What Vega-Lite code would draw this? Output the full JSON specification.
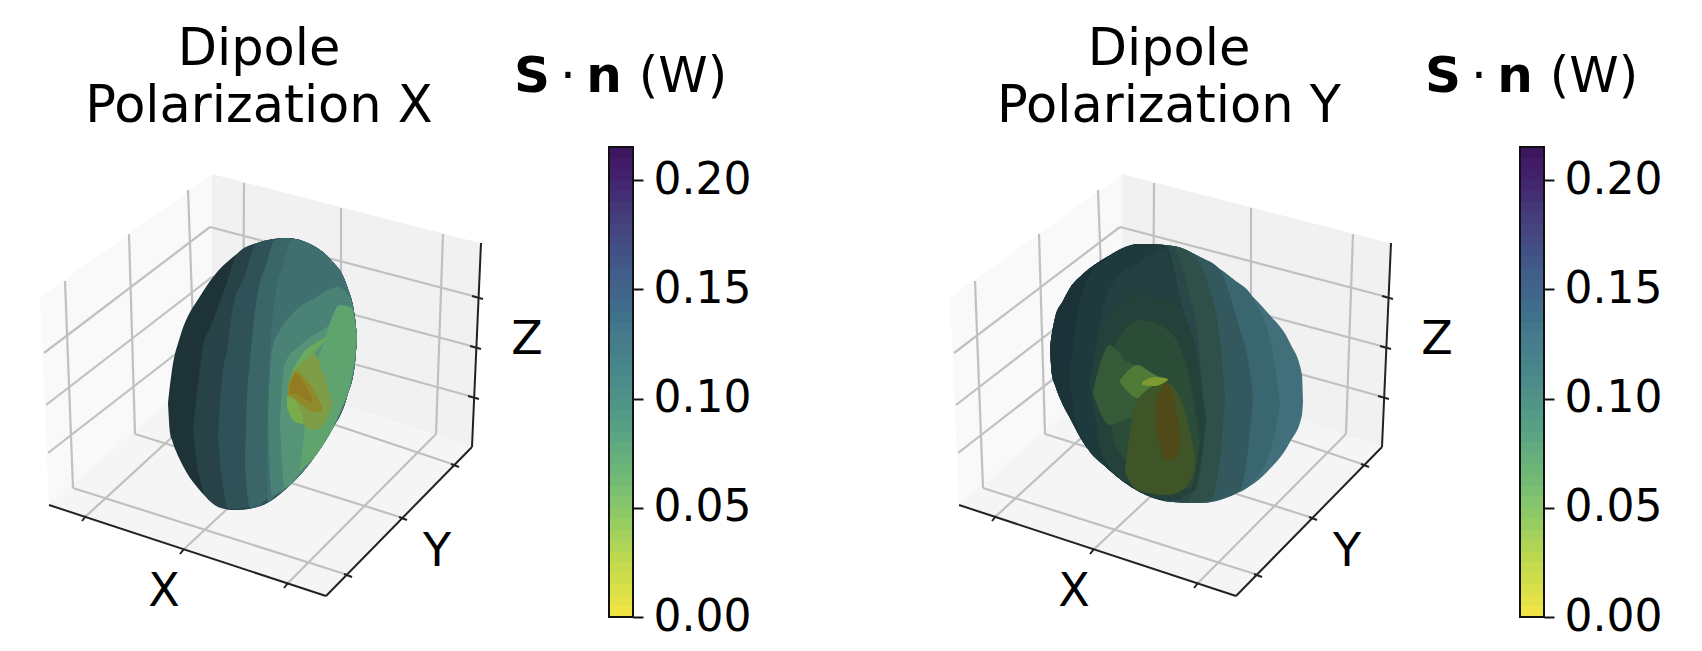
{
  "$schema": "https://vega.github.io/schema/vega-lite/v6.json",
  "padding": 0,
  "background": "white",
  "spacing": 0,
  "bounds": "flush",
  "config": {"view": {"stroke": null}, "text": {"font": "DejaVu Sans"}},
  "datasets": {
    "panes": [
      {"pane": "left", "x": 40, "y": 298, "y2": 298},
      {"pane": "left", "x": 49, "y": 291, "y2": 505},
      {"pane": "left", "x": 213, "y": 174, "y2": 363},
      {"pane": "right", "x": 212, "y": 174, "y2": 363},
      {"pane": "right", "x": 472, "y": 241, "y2": 447},
      {"pane": "right", "x": 481, "y": 243, "y2": 243},
      {"pane": "floor", "x": 49, "y": 505, "y2": 505},
      {"pane": "floor", "x": 213, "y": 363, "y2": 559},
      {"pane": "floor", "x": 326, "y": 400, "y2": 596},
      {"pane": "floor", "x": 472, "y": 447, "y2": 447}
    ],
    "grid": [
      {"x": 65, "y": 281, "x2": 73, "y2": 488},
      {"x": 129, "y": 234, "x2": 135, "y2": 434},
      {"x": 188, "y": 190, "x2": 195, "y2": 378},
      {"x": 244, "y": 183, "x2": 243, "y2": 372},
      {"x": 341, "y": 208, "x2": 341, "y2": 403},
      {"x": 443, "y": 234, "x2": 436, "y2": 434},
      {"x": 44, "y": 353, "x2": 210, "y2": 227},
      {"x": 46, "y": 405, "x2": 212, "y2": 277},
      {"x": 48, "y": 453, "x2": 213, "y2": 325},
      {"x": 210, "y": 227, "x2": 477, "y2": 297},
      {"x": 212, "y": 277, "x2": 475, "y2": 347},
      {"x": 213, "y": 325, "x2": 473, "y2": 397},
      {"x": 84, "y": 518, "x2": 243, "y2": 372},
      {"x": 182, "y": 551, "x2": 341, "y2": 403},
      {"x": 286, "y": 585, "x2": 436, "y2": 434},
      {"x": 348, "y": 575, "x2": 73, "y2": 488},
      {"x": 403, "y": 518, "x2": 135, "y2": 434},
      {"x": 455, "y": 465, "x2": 195, "y2": 378}
    ],
    "axes": [
      {"x": 49, "y": 505, "x2": 326, "y2": 596},
      {"x": 326, "y": 596, "x2": 472, "y2": 447},
      {"x": 472, "y": 447, "x2": 481, "y2": 243},
      {"x": 86, "y": 516, "x2": 82, "y2": 521},
      {"x": 184, "y": 549, "x2": 180, "y2": 554},
      {"x": 288, "y": 583, "x2": 284, "y2": 588},
      {"x": 344, "y": 574, "x2": 352, "y2": 577},
      {"x": 399, "y": 517, "x2": 407, "y2": 520},
      {"x": 451, "y": 464, "x2": 459, "y2": 467},
      {"x": 472, "y": 296, "x2": 483, "y2": 299},
      {"x": 470, "y": 346, "x2": 481, "y2": 349},
      {"x": 468, "y": 396, "x2": 479, "y2": 399}
    ],
    "surfaceX": [
      {"band": "A0", "x": 168, "y": 403, "y2": 403}, {"band": "A0", "x": 170, "y": 385, "y2": 433}, {"band": "A0", "x": 172, "y": 370, "y2": 440}, {"band": "A0", "x": 180, "y": 337, "y2": 460}, {"band": "A0", "x": 193, "y": 307, "y2": 482}, {"band": "A0", "x": 197, "y": 301, "y2": 487}, {"band": "A0", "x": 213, "y": 277, "y2": 503}, {"band": "A0", "x": 233, "y": 257, "y2": 510}, {"band": "A0", "x": 257, "y": 243, "y2": 507}, {"band": "A0", "x": 287, "y": 238, "y2": 488}, {"band": "A0", "x": 310, "y": 244, "y2": 463}, {"band": "A0", "x": 330, "y": 259, "y2": 433}, {"band": "A0", "x": 347, "y": 286, "y2": 397}, {"band": "A0", "x": 355, "y": 318, "y2": 363}, {"band": "A0", "x": 357, "y": 337, "y2": 337},
      {"band": "A1", "x": 193, "y": 430, "y2": 432}, {"band": "A1", "x": 198, "y": 385, "y2": 470}, {"band": "A1", "x": 203, "y": 347, "y2": 490}, {"band": "A1", "x": 212, "y": 323, "y2": 503}, {"band": "A1", "x": 225, "y": 288, "y2": 509}, {"band": "A1", "x": 238, "y": 253, "y2": 510}, {"band": "A1", "x": 257, "y": 243, "y2": 507}, {"band": "A1", "x": 287, "y": 238, "y2": 488}, {"band": "A1", "x": 310, "y": 244, "y2": 463}, {"band": "A1", "x": 330, "y": 259, "y2": 433}, {"band": "A1", "x": 347, "y": 286, "y2": 397}, {"band": "A1", "x": 355, "y": 318, "y2": 363}, {"band": "A1", "x": 357, "y": 337, "y2": 337},
      {"band": "A2", "x": 218, "y": 437, "y2": 439}, {"band": "A2", "x": 222, "y": 380, "y2": 478}, {"band": "A2", "x": 227, "y": 350, "y2": 507}, {"band": "A2", "x": 232, "y": 313, "y2": 509}, {"band": "A2", "x": 245, "y": 275, "y2": 508}, {"band": "A2", "x": 257, "y": 243, "y2": 507}, {"band": "A2", "x": 287, "y": 238, "y2": 488}, {"band": "A2", "x": 310, "y": 244, "y2": 463}, {"band": "A2", "x": 330, "y": 259, "y2": 433}, {"band": "A2", "x": 347, "y": 286, "y2": 397}, {"band": "A2", "x": 355, "y": 318, "y2": 363}, {"band": "A2", "x": 357, "y": 337, "y2": 337},
      {"band": "A3", "x": 245, "y": 463, "y2": 465}, {"band": "A3", "x": 247, "y": 397, "y2": 490}, {"band": "A3", "x": 250, "y": 360, "y2": 508}, {"band": "A3", "x": 257, "y": 297, "y2": 507}, {"band": "A3", "x": 266, "y": 265, "y2": 500}, {"band": "A3", "x": 275, "y": 240, "y2": 496}, {"band": "A3", "x": 287, "y": 238, "y2": 488}, {"band": "A3", "x": 310, "y": 244, "y2": 463}, {"band": "A3", "x": 330, "y": 259, "y2": 433}, {"band": "A3", "x": 347, "y": 286, "y2": 397}, {"band": "A3", "x": 355, "y": 318, "y2": 363}, {"band": "A3", "x": 357, "y": 337, "y2": 337},
      {"band": "A4", "x": 267, "y": 463, "y2": 465}, {"band": "A4", "x": 268, "y": 397, "y2": 502}, {"band": "A4", "x": 275, "y": 297, "y2": 496}, {"band": "A4", "x": 283, "y": 265, "y2": 491}, {"band": "A4", "x": 293, "y": 239, "y2": 482}, {"band": "A4", "x": 310, "y": 244, "y2": 463}, {"band": "A4", "x": 330, "y": 259, "y2": 433}, {"band": "A4", "x": 347, "y": 286, "y2": 397}, {"band": "A4", "x": 355, "y": 318, "y2": 363}, {"band": "A4", "x": 357, "y": 337, "y2": 337},
      {"band": "A5", "x": 268, "y": 417, "y2": 419}, {"band": "A5", "x": 272, "y": 350, "y2": 495}, {"band": "A5", "x": 280, "y": 330, "y2": 492}, {"band": "A5", "x": 293, "y": 313, "y2": 482}, {"band": "A5", "x": 317, "y": 297, "y2": 453}, {"band": "A5", "x": 337, "y": 287, "y2": 420}, {"band": "A5", "x": 350, "y": 297, "y2": 385}, {"band": "A5", "x": 355, "y": 320, "y2": 363}, {"band": "A5", "x": 357, "y": 337, "y2": 337},
      {"band": "A6", "x": 280, "y": 423, "y2": 425}, {"band": "A6", "x": 285, "y": 363, "y2": 488}, {"band": "A6", "x": 303, "y": 343, "y2": 469}, {"band": "A6", "x": 327, "y": 327, "y2": 438}, {"band": "A6", "x": 343, "y": 315, "y2": 404}, {"band": "A6", "x": 355, "y": 325, "y2": 363}, {"band": "A6", "x": 357, "y": 337, "y2": 337},
      {"band": "A7", "x": 300, "y": 468, "y2": 470}, {"band": "A7", "x": 312, "y": 380, "y2": 460}, {"band": "A7", "x": 323, "y": 345, "y2": 445}, {"band": "A7", "x": 340, "y": 305, "y2": 412}, {"band": "A7", "x": 352, "y": 308, "y2": 375}, {"band": "A7", "x": 357, "y": 337, "y2": 337},
      {"band": "A8", "x": 288, "y": 387, "y2": 400}, {"band": "A8", "x": 293, "y": 370, "y2": 417}, {"band": "A8", "x": 303, "y": 360, "y2": 425}, {"band": "A8", "x": 313, "y": 352, "y2": 430}, {"band": "A8", "x": 323, "y": 373, "y2": 425}, {"band": "A8", "x": 332, "y": 403, "y2": 405},
      {"band": "A9", "x": 292, "y": 372, "y2": 374}, {"band": "A9", "x": 303, "y": 353, "y2": 362}, {"band": "A9", "x": 316, "y": 343, "y2": 351}, {"band": "A9", "x": 326, "y": 337, "y2": 339},
      {"band": "A10", "x": 287, "y": 395, "y2": 408}, {"band": "A10", "x": 295, "y": 400, "y2": 422}, {"band": "A10", "x": 303, "y": 418, "y2": 424},
      {"band": "A11", "x": 288, "y": 388, "y2": 396}, {"band": "A11", "x": 296, "y": 371, "y2": 400}, {"band": "A11", "x": 303, "y": 376, "y2": 405}, {"band": "A11", "x": 313, "y": 389, "y2": 412}, {"band": "A11", "x": 322, "y": 406, "y2": 412},
      {"band": "A12", "x": 289, "y": 389, "y2": 394}, {"band": "A12", "x": 296, "y": 374, "y2": 394}, {"band": "A12", "x": 303, "y": 382, "y2": 398}, {"band": "A12", "x": 312, "y": 398, "y2": 403}
    ],
    "surfaceY": [
      {"band": "E0", "x": 140, "y": 348, "y2": 348}, {"band": "E0", "x": 142, "y": 333, "y2": 375}, {"band": "E0", "x": 145, "y": 318, "y2": 385}, {"band": "E0", "x": 153, "y": 301, "y2": 405}, {"band": "E0", "x": 160, "y": 288, "y2": 418}, {"band": "E0", "x": 173, "y": 274, "y2": 442}, {"band": "E0", "x": 197, "y": 257, "y2": 468}, {"band": "E0", "x": 230, "y": 244, "y2": 492}, {"band": "E0", "x": 263, "y": 246, "y2": 502}, {"band": "E0", "x": 290, "y": 257, "y2": 503}, {"band": "E0", "x": 323, "y": 279, "y2": 495}, {"band": "E0", "x": 357, "y": 312, "y2": 472}, {"band": "E0", "x": 380, "y": 343, "y2": 442}, {"band": "E0", "x": 392, "y": 375, "y2": 415}, {"band": "E0", "x": 393, "y": 402, "y2": 402},
      {"band": "E1", "x": 140, "y": 348, "y2": 348}, {"band": "E1", "x": 142, "y": 333, "y2": 375}, {"band": "E1", "x": 145, "y": 318, "y2": 385}, {"band": "E1", "x": 153, "y": 301, "y2": 405}, {"band": "E1", "x": 160, "y": 288, "y2": 418}, {"band": "E1", "x": 173, "y": 274, "y2": 442}, {"band": "E1", "x": 197, "y": 257, "y2": 468}, {"band": "E1", "x": 230, "y": 244, "y2": 492}, {"band": "E1", "x": 263, "y": 246, "y2": 502}, {"band": "E1", "x": 290, "y": 257, "y2": 503}, {"band": "E1", "x": 323, "y": 279, "y2": 495}, {"band": "E1", "x": 343, "y": 298, "y2": 482}, {"band": "E1", "x": 362, "y": 350, "y2": 445}, {"band": "E1", "x": 370, "y": 402, "y2": 404},
      {"band": "E2", "x": 140, "y": 348, "y2": 348}, {"band": "E2", "x": 142, "y": 333, "y2": 375}, {"band": "E2", "x": 145, "y": 318, "y2": 385}, {"band": "E2", "x": 153, "y": 301, "y2": 405}, {"band": "E2", "x": 160, "y": 288, "y2": 418}, {"band": "E2", "x": 173, "y": 274, "y2": 442}, {"band": "E2", "x": 197, "y": 257, "y2": 468}, {"band": "E2", "x": 230, "y": 244, "y2": 492}, {"band": "E2", "x": 263, "y": 246, "y2": 502}, {"band": "E2", "x": 290, "y": 257, "y2": 503}, {"band": "E2", "x": 310, "y": 270, "y2": 499}, {"band": "E2", "x": 330, "y": 330, "y2": 490}, {"band": "E2", "x": 338, "y": 360, "y2": 450}, {"band": "E2", "x": 343, "y": 395, "y2": 397},
      {"band": "E3", "x": 140, "y": 348, "y2": 348}, {"band": "E3", "x": 142, "y": 333, "y2": 375}, {"band": "E3", "x": 145, "y": 318, "y2": 385}, {"band": "E3", "x": 153, "y": 301, "y2": 405}, {"band": "E3", "x": 160, "y": 288, "y2": 418}, {"band": "E3", "x": 173, "y": 274, "y2": 442}, {"band": "E3", "x": 197, "y": 257, "y2": 468}, {"band": "E3", "x": 230, "y": 244, "y2": 492}, {"band": "E3", "x": 263, "y": 246, "y2": 502}, {"band": "E3", "x": 280, "y": 252, "y2": 503}, {"band": "E3", "x": 300, "y": 290, "y2": 501}, {"band": "E3", "x": 310, "y": 340, "y2": 460}, {"band": "E3", "x": 315, "y": 395, "y2": 397},
      {"band": "E4", "x": 140, "y": 348, "y2": 348}, {"band": "E4", "x": 142, "y": 333, "y2": 375}, {"band": "E4", "x": 145, "y": 318, "y2": 385}, {"band": "E4", "x": 153, "y": 301, "y2": 405}, {"band": "E4", "x": 160, "y": 288, "y2": 418}, {"band": "E4", "x": 173, "y": 274, "y2": 442}, {"band": "E4", "x": 197, "y": 257, "y2": 468}, {"band": "E4", "x": 230, "y": 244, "y2": 492}, {"band": "E4", "x": 263, "y": 246, "y2": 502}, {"band": "E4", "x": 277, "y": 285, "y2": 502}, {"band": "E4", "x": 288, "y": 340, "y2": 460}, {"band": "E4", "x": 293, "y": 395, "y2": 397},
      {"band": "E5", "x": 140, "y": 348, "y2": 348}, {"band": "E5", "x": 142, "y": 333, "y2": 375}, {"band": "E5", "x": 145, "y": 318, "y2": 385}, {"band": "E5", "x": 153, "y": 301, "y2": 405}, {"band": "E5", "x": 160, "y": 288, "y2": 418}, {"band": "E5", "x": 173, "y": 274, "y2": 442}, {"band": "E5", "x": 197, "y": 257, "y2": 468}, {"band": "E5", "x": 230, "y": 244, "y2": 492}, {"band": "E5", "x": 255, "y": 245, "y2": 500}, {"band": "E5", "x": 268, "y": 290, "y2": 500}, {"band": "E5", "x": 278, "y": 340, "y2": 480}, {"band": "E5", "x": 283, "y": 395, "y2": 397},
      {"band": "F1", "x": 160, "y": 375, "y2": 377}, {"band": "F1", "x": 165, "y": 330, "y2": 420}, {"band": "F1", "x": 175, "y": 285, "y2": 444}, {"band": "F1", "x": 197, "y": 258, "y2": 468}, {"band": "F1", "x": 230, "y": 244, "y2": 492}, {"band": "F1", "x": 255, "y": 245, "y2": 500}, {"band": "F1", "x": 268, "y": 290, "y2": 500}, {"band": "F1", "x": 278, "y": 340, "y2": 480}, {"band": "F1", "x": 283, "y": 395, "y2": 397},
      {"band": "F2", "x": 182, "y": 375, "y2": 377}, {"band": "F2", "x": 190, "y": 320, "y2": 450}, {"band": "F2", "x": 205, "y": 280, "y2": 472}, {"band": "F2", "x": 230, "y": 262, "y2": 492}, {"band": "F2", "x": 255, "y": 248, "y2": 500}, {"band": "F2", "x": 268, "y": 290, "y2": 500}, {"band": "F2", "x": 278, "y": 340, "y2": 480}, {"band": "F2", "x": 283, "y": 395, "y2": 397},
      {"band": "D1", "x": 180, "y": 382, "y2": 384}, {"band": "D1", "x": 197, "y": 318, "y2": 464}, {"band": "D1", "x": 230, "y": 295, "y2": 490}, {"band": "D1", "x": 263, "y": 302, "y2": 498}, {"band": "D1", "x": 285, "y": 345, "y2": 490}, {"band": "D1", "x": 296, "y": 420, "y2": 422},
      {"band": "D2", "x": 198, "y": 395, "y2": 397}, {"band": "D2", "x": 205, "y": 345, "y2": 445}, {"band": "D2", "x": 230, "y": 320, "y2": 470}, {"band": "D2", "x": 258, "y": 330, "y2": 490}, {"band": "D2", "x": 280, "y": 380, "y2": 488}, {"band": "D2", "x": 290, "y": 440, "y2": 442},
      {"band": "D3", "x": 183, "y": 392, "y2": 394}, {"band": "D3", "x": 200, "y": 345, "y2": 425}, {"band": "D3", "x": 215, "y": 360, "y2": 420}, {"band": "D3", "x": 235, "y": 372, "y2": 410}, {"band": "D3", "x": 245, "y": 390, "y2": 392},
      {"band": "D4", "x": 210, "y": 380, "y2": 382}, {"band": "D4", "x": 228, "y": 365, "y2": 398}, {"band": "D4", "x": 240, "y": 372, "y2": 395}, {"band": "D4", "x": 256, "y": 380, "y2": 382},
      {"band": "B1", "x": 215, "y": 470, "y2": 472}, {"band": "B1", "x": 227, "y": 400, "y2": 490}, {"band": "B1", "x": 256, "y": 382, "y2": 495}, {"band": "B1", "x": 273, "y": 405, "y2": 490}, {"band": "B1", "x": 285, "y": 455, "y2": 470},
      {"band": "B2", "x": 245, "y": 405, "y2": 425}, {"band": "B2", "x": 256, "y": 383, "y2": 460}, {"band": "B2", "x": 263, "y": 395, "y2": 460}, {"band": "B2", "x": 270, "y": 435, "y2": 445},
      {"band": "D5", "x": 232, "y": 382, "y2": 385}, {"band": "D5", "x": 245, "y": 377, "y2": 386}, {"band": "D5", "x": 255, "y": 378, "y2": 382}, {"band": "D5", "x": 258, "y": 379, "y2": 380}
    ],
    "labels": [
      {"panel": "X", "x": 164, "y": 592, "text": "X"},
      {"panel": "X", "x": 437, "y": 552, "text": "Y"},
      {"panel": "X", "x": 527, "y": 340, "text": "Z"}
    ],
    "titles": [
      {"panel": "X", "x": 259, "y": 49.5, "text": "Dipole"},
      {"panel": "X", "x": 259, "y": 106.5, "text": "Polarization X"},
      {"panel": "Y", "x": 259, "y": 49.5, "text": "Dipole"},
      {"panel": "Y", "x": 259, "y": 106.5, "text": "Polarization Y"}
    ],
    "bar": [
      {"v": 0, "v2": 0.0055}, {"v": 0.005, "v2": 0.0105}, {"v": 0.01, "v2": 0.0155}, {"v": 0.015, "v2": 0.0205},
      {"v": 0.02, "v2": 0.0255}, {"v": 0.025, "v2": 0.0305}, {"v": 0.03, "v2": 0.0355}, {"v": 0.035, "v2": 0.0405},
      {"v": 0.04, "v2": 0.0455}, {"v": 0.045, "v2": 0.0505}, {"v": 0.05, "v2": 0.0555}, {"v": 0.055, "v2": 0.0605},
      {"v": 0.06, "v2": 0.0655}, {"v": 0.065, "v2": 0.0705}, {"v": 0.07, "v2": 0.0755}, {"v": 0.075, "v2": 0.0805},
      {"v": 0.08, "v2": 0.0855}, {"v": 0.085, "v2": 0.0905}, {"v": 0.09, "v2": 0.0955}, {"v": 0.095, "v2": 0.1005},
      {"v": 0.1, "v2": 0.1055}, {"v": 0.105, "v2": 0.1105}, {"v": 0.11, "v2": 0.1155}, {"v": 0.115, "v2": 0.1205},
      {"v": 0.12, "v2": 0.1255}, {"v": 0.125, "v2": 0.1305}, {"v": 0.13, "v2": 0.1355}, {"v": 0.135, "v2": 0.1405},
      {"v": 0.14, "v2": 0.1455}, {"v": 0.145, "v2": 0.1505}, {"v": 0.15, "v2": 0.1555}, {"v": 0.155, "v2": 0.1605},
      {"v": 0.16, "v2": 0.1655}, {"v": 0.165, "v2": 0.1705}, {"v": 0.17, "v2": 0.1755}, {"v": 0.175, "v2": 0.1805},
      {"v": 0.18, "v2": 0.1855}, {"v": 0.185, "v2": 0.1905}, {"v": 0.19, "v2": 0.1955}, {"v": 0.195, "v2": 0.2005},
      {"v": 0.2, "v2": 0.2055}, {"v": 0.205, "v2": 0.2105}, {"v": 0.21, "v2": 0.2151}
    ],
    "barname": [
      {"x": 532, "v": 0.2403, "text": "S", "weight": "bold"},
      {"x": 604, "v": 0.2403, "text": "n", "weight": "bold"},
      {"x": 568, "v": 0.2403, "text": "·", "weight": "normal"},
      {"x": 683, "v": 0.2403, "text": "(W)", "weight": "normal"}
    ]
  },
  "hconcat": [
    {
      "width": 609,
      "height": 651,
      "resolve": {"scale": {"color": "independent"}},
      "encoding": {
        "x": {"field": "x", "type": "quantitative", "axis": null, "scale": {"domain": [0, 609], "nice": false, "zero": false}},
        "y": {"field": "y", "type": "quantitative", "axis": null, "scale": {"domain": [651, 0], "nice": false, "zero": false}}
      },
      "layer": [
        {
          "data": {"name": "panes"},
          "mark": {"type": "area", "orient": "vertical", "opacity": 1},
          "encoding": {
            "y2": {"field": "y2"},
            "color": {"field": "pane", "type": "nominal", "legend": null, "scale": {"domain": ["left", "right", "floor"], "range": ["#f9f9f9", "#f1f1f1", "#f5f5f5"]}}
          }
        },
        {
          "data": {"name": "grid"},
          "mark": {"type": "rule", "color": "#c0c0c0", "strokeWidth": 2.2},
          "encoding": {"x2": {"field": "x2"}, "y2": {"field": "y2"}}
        },
        {
          "data": {"name": "axes"},
          "mark": {"type": "rule", "color": "#222222", "strokeWidth": 2},
          "encoding": {"x2": {"field": "x2"}, "y2": {"field": "y2"}}
        },
        {
          "data": {"name": "surfaceX"},
          "mark": {"type": "area", "orient": "vertical", "interpolate": "monotone", "opacity": 1},
          "encoding": {
            "y2": {"field": "y2"},
            "color": {"field": "band", "type": "nominal", "sort": null, "legend": null, "scale": {"domain": ["A0", "A1", "A2", "A3", "A4", "A5", "A6", "A7", "A8", "A9", "A10", "A11", "A12"], "range": ["#1e3338", "#284348", "#2f5158", "#3a6668", "#3f6f6e", "#4a8276", "#569478", "#5fa36f", "#7f9c46", "#6aa95e", "#79ad4c", "#8f8a2a", "#947a20"]}}
          }
        },
        {
          "data": {"name": "labels"},
          "mark": {"type": "text", "fontSize": 46, "font": "DejaVu Sans", "baseline": "middle", "color": "black"},
          "encoding": {"text": {"field": "text"}}
        },
        {
          "data": {"name": "titles"},
          "transform": [{"filter": "datum.panel == 'X'"}],
          "mark": {"type": "text", "fontSize": 51, "font": "DejaVu Sans", "baseline": "middle", "color": "black"},
          "encoding": {"text": {"field": "text"}}
        }
      ]
    },
    {
      "width": 24,
      "height": 651,
      "resolve": {"scale": {"color": "independent"}},
      "layer": [
        {
          "data": {"name": "bar"},
          "mark": {"type": "rect", "opacity": 1},
          "encoding": {
            "y": {"field": "v", "type": "quantitative", "scale": {"domain": [-0.01556, 0.28238], "nice": false, "zero": false}, "axis": {"orient": "right", "values": [0, 0.05, 0.1, 0.15, 0.2], "format": ".2f", "title": null, "domain": false, "grid": false, "labelFontSize": 44, "labelFont": "DejaVu Sans", "labelColor": "black", "labelPadding": 10, "tickSize": 10, "tickWidth": 2, "tickColor": "#111111"}},
            "y2": {"field": "v2"},
            "color": {"field": "v", "type": "quantitative", "legend": null, "scale": {"domain": [0, 0.025, 0.05, 0.075, 0.1, 0.125, 0.15, 0.175, 0.2, 0.215], "range": ["#efe444", "#bcd850", "#84c46c", "#62ab7e", "#4f8f88", "#477a8a", "#42628a", "#46457f", "#43206a", "#3c0f5a"]}}
          }
        },
        {
          "data": {"values": [{"v": 0, "v2": 0.2151}]},
          "mark": {"type": "rect", "filled": false, "stroke": "#111111", "strokeWidth": 2},
          "encoding": {"y": {"field": "v", "type": "quantitative"}, "y2": {"field": "v2"}}
        },
        {
          "data": {"name": "barname"},
          "transform": [{"filter": "datum.weight == 'bold'"}],
          "mark": {"type": "text", "fontSize": 50, "fontWeight": "bold", "font": "DejaVu Sans", "baseline": "alphabetic", "color": "black"},
          "encoding": {
            "x": {"field": "x", "type": "quantitative", "axis": null, "scale": {"domain": [609, 633], "nice": false, "zero": false}},
            "y": {"field": "v", "type": "quantitative"},
            "text": {"field": "text"}
          }
        },
        {
          "data": {"name": "barname"},
          "transform": [{"filter": "datum.weight == 'normal'"}],
          "mark": {"type": "text", "fontSize": 50, "font": "DejaVu Sans", "baseline": "alphabetic", "color": "black"},
          "encoding": {
            "x": {"field": "x", "type": "quantitative", "axis": null},
            "y": {"field": "v", "type": "quantitative"},
            "text": {"field": "text"}
          }
        }
      ]
    },
    {
      "width": 887,
      "height": 651,
      "resolve": {"scale": {"color": "independent"}},
      "encoding": {
        "x": {"field": "x", "type": "quantitative", "axis": null, "scale": {"domain": [-277, 610], "nice": false, "zero": false}},
        "y": {"field": "y", "type": "quantitative", "axis": null, "scale": {"domain": [651, 0], "nice": false, "zero": false}}
      },
      "layer": [
        {
          "data": {"name": "panes"},
          "mark": {"type": "area", "orient": "vertical", "opacity": 1},
          "encoding": {
            "y2": {"field": "y2"},
            "color": {"field": "pane", "type": "nominal", "legend": null, "scale": {"domain": ["left", "right", "floor"], "range": ["#f9f9f9", "#f1f1f1", "#f5f5f5"]}}
          }
        },
        {
          "data": {"name": "grid"},
          "mark": {"type": "rule", "color": "#c0c0c0", "strokeWidth": 2.2},
          "encoding": {"x2": {"field": "x2"}, "y2": {"field": "y2"}}
        },
        {
          "data": {"name": "axes"},
          "mark": {"type": "rule", "color": "#222222", "strokeWidth": 2},
          "encoding": {"x2": {"field": "x2"}, "y2": {"field": "y2"}}
        },
        {
          "data": {"name": "surfaceY"},
          "mark": {"type": "area", "orient": "vertical", "interpolate": "monotone", "opacity": 1},
          "encoding": {
            "y2": {"field": "y2"},
            "color": {"field": "band", "type": "nominal", "sort": null, "legend": null, "scale": {"domain": ["E0", "E1", "E2", "E3", "E4", "E5", "F1", "F2", "D1", "D2", "D3", "D4", "B1", "B2", "D5"], "range": ["#41707a", "#3a6670", "#33595f", "#2e5048", "#2a4847", "#1b3238", "#1f3a3c", "#233f40", "#24413a", "#2b4c36", "#345a38", "#507a38", "#3f5528", "#4f4a18", "#7f9a30"]}}
          }
        },
        {
          "data": {"name": "labels"},
          "mark": {"type": "text", "fontSize": 46, "font": "DejaVu Sans", "baseline": "middle", "color": "black"},
          "encoding": {"text": {"field": "text"}}
        },
        {
          "data": {"name": "titles"},
          "transform": [{"filter": "datum.panel == 'Y'"}],
          "mark": {"type": "text", "fontSize": 51, "font": "DejaVu Sans", "baseline": "middle", "color": "black"},
          "encoding": {"text": {"field": "text"}}
        }
      ]
    },
    {
      "width": 24,
      "height": 651,
      "resolve": {"scale": {"color": "independent"}},
      "layer": [
        {
          "data": {"name": "bar"},
          "mark": {"type": "rect", "opacity": 1},
          "encoding": {
            "y": {"field": "v", "type": "quantitative", "scale": {"domain": [-0.01556, 0.28238], "nice": false, "zero": false}, "axis": {"orient": "right", "values": [0, 0.05, 0.1, 0.15, 0.2], "format": ".2f", "title": null, "domain": false, "grid": false, "labelFontSize": 44, "labelFont": "DejaVu Sans", "labelColor": "black", "labelPadding": 10, "tickSize": 10, "tickWidth": 2, "tickColor": "#111111"}},
            "y2": {"field": "v2"},
            "color": {"field": "v", "type": "quantitative", "legend": null, "scale": {"domain": [0, 0.025, 0.05, 0.075, 0.1, 0.125, 0.15, 0.175, 0.2, 0.215], "range": ["#efe444", "#bcd850", "#84c46c", "#62ab7e", "#4f8f88", "#477a8a", "#42628a", "#46457f", "#43206a", "#3c0f5a"]}}
          }
        },
        {
          "data": {"values": [{"v": 0, "v2": 0.2151}]},
          "mark": {"type": "rect", "filled": false, "stroke": "#111111", "strokeWidth": 2},
          "encoding": {"y": {"field": "v", "type": "quantitative"}, "y2": {"field": "v2"}}
        },
        {
          "data": {"name": "barname"},
          "transform": [{"filter": "datum.weight == 'bold'"}],
          "mark": {"type": "text", "fontSize": 50, "fontWeight": "bold", "font": "DejaVu Sans", "baseline": "alphabetic", "color": "black"},
          "encoding": {
            "x": {"field": "x", "type": "quantitative", "axis": null, "scale": {"domain": [609, 633], "nice": false, "zero": false}},
            "y": {"field": "v", "type": "quantitative"},
            "text": {"field": "text"}
          }
        },
        {
          "data": {"name": "barname"},
          "transform": [{"filter": "datum.weight == 'normal'"}],
          "mark": {"type": "text", "fontSize": 50, "font": "DejaVu Sans", "baseline": "alphabetic", "color": "black"},
          "encoding": {
            "x": {"field": "x", "type": "quantitative", "axis": null},
            "y": {"field": "v", "type": "quantitative"},
            "text": {"field": "text"}
          }
        }
      ]
    }
  ]
}
